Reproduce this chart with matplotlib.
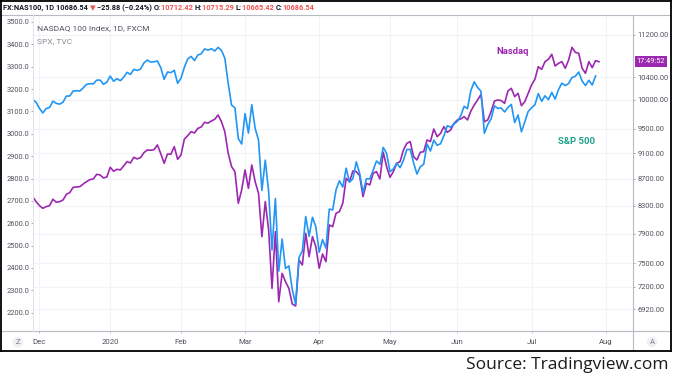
import numpy as np
import pandas as pd
import matplotlib
matplotlib.use('Agg')
import matplotlib.pyplot as plt
import matplotlib.transforms as mtransforms
from matplotlib.lines import Line2D
from matplotlib.ticker import FixedLocator, NullLocator, FuncFormatter

plt.rcParams['font.family'] = ['Roboto', 'DejaVu Sans']

# trading sessions (US market holidays skipped), month labels on the time axis
holidays = ['2019-11-28', '2019-12-25', '2020-01-01', '2020-01-20',
            '2020-02-17', '2020-04-10', '2020-05-25', '2020-07-03']
month_labels = ['Dec', '2020', 'Feb', 'Mar', 'Apr', 'May', 'Jun', 'Jul', 'Aug']

# S&P 500 daily closes, 27 Nov 2019 - 29 Jul 2020 (left scale)
spx = [3153.6, 3141.0,
       3113.9, 3093.2, 3112.8, 3117.4, 3145.9, 3136.0, 3132.5, 3141.6, 3168.6, 3168.8, 3191.5,
       3192.5, 3191.1, 3205.4, 3221.2, 3224.0, 3223.4, 3239.9, 3240.0, 3221.3, 3230.8,
       3257.9, 3234.9, 3246.3, 3237.2, 3253.1, 3274.7, 3265.4, 3288.1, 3283.2, 3289.3, 3316.8,
       3329.6, 3320.8, 3321.8, 3325.5, 3295.5, 3243.6, 3276.2, 3273.4, 3283.7, 3225.5,
       3248.9, 3297.6, 3334.7, 3345.8, 3327.7, 3352.1, 3357.8, 3379.5, 3373.9, 3380.2, 3370.3,
       3386.2, 3373.2, 3337.8, 3225.9, 3128.2, 3116.4, 2978.8, 2954.2,
       3090.2, 3003.4, 3130.1, 3023.9, 2972.4, 2746.6, 2882.2, 2741.4, 2480.6, 2711.0, 2386.1,
       2529.2, 2398.1, 2409.4, 2304.9, 2237.4, 2447.3, 2475.6, 2630.1, 2541.5, 2626.7, 2584.6,
       2470.5, 2526.9, 2488.7, 2663.7, 2659.4, 2750.0, 2789.8, 2761.6, 2846.1, 2783.4, 2799.6,
       2874.6, 2823.2, 2736.6, 2799.3, 2797.8, 2836.7, 2878.5, 2863.4, 2939.5, 2912.4,
       2830.7, 2842.7, 2868.4, 2848.4, 2881.2, 2929.8, 2930.3, 2870.1, 2820.0, 2852.5, 2863.7,
       2953.9, 2922.9, 2971.6, 2948.5, 2955.5, 2991.8, 3036.1, 3029.7, 3044.3,
       3055.7, 3080.8, 3122.9, 3112.4, 3193.9, 3232.4, 3207.2, 3190.1, 3002.1, 3041.3, 3066.6,
       3124.7, 3113.5, 3115.3, 3097.7, 3117.9, 3131.3, 3050.3, 3083.8, 3009.1, 3053.2, 3100.3,
       3115.9, 3130.0, 3179.7, 3145.3, 3169.9, 3152.1, 3185.0, 3155.2, 3197.5, 3226.6, 3215.6,
       3224.7, 3251.8, 3257.3, 3276.0, 3235.7, 3215.6, 3239.4, 3218.4, 3258.4]

# NAS100 daily closes, 27 Nov 2019 - 30 Jul 2020 (right log scale)
nas100 = [8433, 8359,
          8301, 8262, 8286, 8301, 8394, 8350, 8359, 8384, 8468, 8493, 8572,
          8577, 8582, 8623, 8658, 8689, 8699, 8770, 8760, 8714, 8729,
          8879, 8817, 8848, 8837, 8900, 8968, 8947, 9036, 9010, 9031, 9110,
          9153, 9148, 9158, 9234, 9094, 8941, 9089, 9084, 9207, 9004,
          9073, 9331, 9386, 9452, 9430, 9507, 9530, 9608, 9595, 9631, 9659,
          9733, 9619, 9452, 9100, 8889, 8811, 8335, 8532,
          8837, 8557, 8915, 8658, 8483, 7861, 8359, 7954, 7179, 7930, 7013,
          7371, 7264, 7179, 6985, 6960, 7545, 7479, 7907, 7590, 7861, 7724,
          7436, 7625, 7523, 8024, 8000, 8190, 8214, 8335, 8709, 8658, 8822,
          8811, 8750, 8433, 8633, 8608, 8786, 8811, 8699, 9116, 8889,
          8724, 8811, 8941, 8968, 9153, 9260, 9288, 9046, 8994, 9116, 9126,
          9315, 9288, 9496, 9369, 9424, 9535, 9441, 9480, 9591,
          9648, 9665, 9704, 9648, 9801, 9905, 9992, 10092, 9619, 9648, 9790,
          9975, 9992, 9981, 9934, 10151, 10199, 10051, 10110, 9893, 9963, 10110,
          10259, 10362, 10594, 10545, 10688, 10732, 10826, 10607, 10657, 10688, 10564,
          10719, 10960, 10864, 10845, 10564, 10471, 10688, 10576, 10707, 10686.54]

spx_ticks = list(range(2200, 3600, 100))
nas_ticks = [6920, 7200, 7500, 7900, 8300, 8700, 9100, 9500, 10000, 10400, 11200]

header = [('FX:NAS100, 1D ', '#131722'), ('10686.54 ', '#131722'), ('\u25bc ', '#ef5350'),
          ('\u221225.88 (\u22120.24%) ', '#131722'), ('O:', '#131722'), ('10712.42 ', '#ef5350'),
          ('H:', '#131722'), ('10715.29 ', '#ef5350'), ('L:', '#131722'),
          ('10665.42 ', '#ef5350'), ('C:', '#131722'), ('10686.54', '#ef5350')]

W, H = 675, 376
def fx(px):
    return px / W
def fy(py):
    return 1 - py / H

fig = plt.figure(figsize=(W / 100, H / 100), dpi=100)
ax = fig.add_axes([fx(33), fy(331), 600 / W, 316 / H])   # NAS100, main scale (right)
ax_spx = ax.twinx()                                       # SPX comparison (left)

sessions = pd.bdate_range('2019-11-27', '2020-08-03', freq='C', holidays=holidays)
month_pos = np.flatnonzero(~sessions.to_period('M').duplicated())[1:]

ax.plot(np.arange(len(nas100)), nas100, color='#9c27b0', lw=1.2, solid_joinstyle='round')
ax_spx.plot(np.arange(len(spx)), spx, color='#2196f3', lw=1.2, solid_joinstyle='round')

ax.set_xlim(0.09, 178.1)
ax.set_yscale('log')
ax.set_ylim(6661, 11600)
ax_spx.set_ylim(2118.3, 3531.1)

tick_col = '#50535e'
ax.yaxis.tick_right()
ax.yaxis.set_major_locator(FixedLocator(nas_ticks))
ax.yaxis.set_minor_locator(NullLocator())
ax.yaxis.set_major_formatter(FuncFormatter(lambda v, p: '%.2f' % v))
ax.tick_params(axis='y', which='both', direction='out', length=1.6, width=0.6, pad=1.7,
               labelsize=5.4, colors='#9598a1', labelcolor=tick_col)
ax_spx.yaxis.tick_left()
ax_spx.set_yticks(spx_ticks)
ax_spx.yaxis.set_major_formatter(FuncFormatter(lambda v, p: '%.1f' % v))
ax_spx.tick_params(axis='y', direction='out', length=1.6, width=0.6, pad=1.0,
                   labelsize=5.4, colors='#9598a1', labelcolor=tick_col)

ax.set_xticks(month_pos)
ax.set_xticklabels(month_labels)
ax.tick_params(axis='x', direction='out', length=1.6, width=0.6, pad=4.2,
               labelsize=5.6, colors='#b2b5be', labelcolor=tick_col)
ax.grid(True, color='#f0f3fa', lw=0.8)
ax.set_axisbelow(True)
for a in (ax, ax_spx):
    for sp in a.spines.values():
        sp.set_visible(False)

# panel frame lines
def seg(x0, y0, x1, y1, **kw):
    fig.add_artist(Line2D([fx(x0), fx(x1)], [fy(y0), fy(y1)], transform=fig.transFigure, **kw))

line_col = '#b8bbc3'
seg(0, 15, 671, 15, color=line_col, lw=0.8)
seg(0, 331, 671, 331, color=line_col, lw=0.8)
seg(33, 15, 33, 331, color='#e0e3eb', lw=0.7)
seg(633, 15, 633, 351, color=line_col, lw=0.8)
for x0, y0, x1, y1 in [(0.7, 0.7, 671, 0.7), (0.7, 351, 671, 351),
                       (0.7, 0.7, 0.7, 351), (671, 0.7, 671, 351)]:
    seg(x0, y0, x1, y1, color='black', lw=1.3)

# header with OHLC values
t = fig.text(fx(3), fy(12), header[0][0], color=header[0][1], fontsize=5.3,
             fontweight='bold', va='bottom', ha='left')
for s, c in header[1:]:
    t = ax.annotate(s, xy=(1, 0), xycoords=t, va='bottom', ha='left', color=c,
                    fontsize=5.3, fontweight='bold', annotation_clip=False)

fig.text(fx(37), fy(28), 'NASDAQ 100 Index, 1D, FXCM', fontsize=6, color='#50535e',
         va='center', ha='left')
fig.text(fx(37), fy(41), 'SPX, TVC', fontsize=6, color='#8a8d95', va='center', ha='left')

fig.text(fx(513), fy(52), 'Nasdaq', fontsize=6.8, fontweight='bold', color='#9c27b0',
         ha='center', va='center')
fig.text(fx(576), fy(141), 'S&P 500', fontsize=6.8, fontweight='bold', color='#1fa08a',
         ha='center', va='center')

# countdown label on the price scale
trans = mtransforms.blended_transform_factory(fig.transFigure, ax.transData)
ax.text(fx(651), nas100[-1], '17:49:52', transform=trans, fontsize=5.3, color='white',
        ha='center', va='center', clip_on=False,
        bbox=dict(boxstyle='square,pad=0.25', fc='#9c27b0', ec='none'))

for px, s in [(18, 'Z'), (652, 'A')]:
    fig.text(fx(px), fy(342), s, fontsize=5.5, color='#787b86', ha='center', va='center',
             bbox=dict(boxstyle='circle,pad=0.3', fc='#eef0f4', ec='none'))

fig.text(fx(669), fy(365), 'Source: Tradingview.com', fontsize=12.5, color='#1a1a1a',
         family=['Open Sans', 'DejaVu Sans'], ha='right', va='center')

fig.savefig('out.png', dpi=100)
